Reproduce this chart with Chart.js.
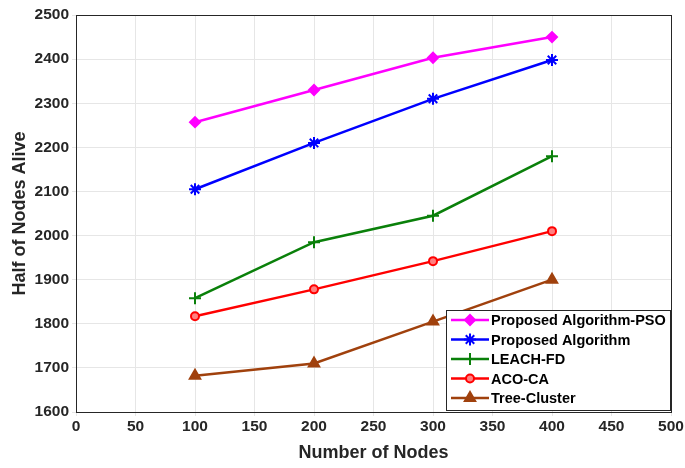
<!DOCTYPE html>
<html>
<head>
<meta charset="utf-8">
<script src="https://cdn.jsdelivr.net/npm/chart.js@4"></script>
<style>
  html, body { margin: 0; padding: 0; background: #fff; }
  #wrap { width: 685px; height: 468px; }
</style>
</head>
<body>
<div id="wrap"><canvas id="nodesChart" width="685" height="468"></canvas></div>
<script>
const nodes = [100, 200, 300, 400];
const psoAlive = [2257, 2330, 2403, 2450];
const proposedAlive = [2105, 2210, 2310, 2398];
const leachAlive = [1858, 1985, 2045, 2180];
const acoAlive = [1817, 1878, 1942, 2010];
const treeAlive = [1682, 1710, 1805, 1900];

const FONT = "'Liberation Sans', Arial, sans-serif";
const TXT = "#262626";

function pts(vals) {
  return nodes.map((n, i) => ({ x: n, y: vals[i] }));
}

function series(label, vals, color, style, fill, radius) {
  return {
    label: label,
    data: pts(vals),
    borderColor: color,
    backgroundColor: fill,
    borderWidth: 2.5,
    pointStyle: style,
    pointRadius: radius,
    pointBorderWidth: 2,
    pointBorderColor: color,
    pointBackgroundColor: fill,
    tension: 0
  };
}

// legend drawn inside the plot, bottom right (MATLAB style)
const insideLegend = {
  id: "insideLegend",
  afterDatasetsDraw(chart) {
    const c = chart.ctx;
    const x0 = 446, y0 = 310, w = 224, h = 100;
    c.save();
    c.fillStyle = "#fff";
    c.fillRect(x0, y0, w, h);
    c.strokeStyle = "#262626";
    c.lineWidth = 1;
    c.strokeRect(x0 + 0.5, y0 + 0.5, w, h);
    c.font = "bold 14.5px " + FONT;
    c.textBaseline = "middle";
    chart.data.datasets.forEach((ds, i) => {
      const y = y0 + 10 + i * 19.5;
      c.strokeStyle = ds.borderColor;
      c.lineWidth = 2.5;
      c.beginPath();
      c.moveTo(x0 + 5, y);
      c.lineTo(x0 + 43, y);
      c.stroke();
      c.fillStyle = ds.pointBackgroundColor;
      c.strokeStyle = ds.borderColor;
      c.lineWidth = 2;
      Chart.helpers.drawPoint(c, { pointStyle: ds.pointStyle, radius: ds.pointRadius, borderWidth: 2, rotation: 0 }, x0 + 24, y);
      c.fillStyle = "#000";
      c.fillText(ds.label, x0 + 45, y + 1);
    });
    c.restore();
  },
  afterDraw(chart) {
    const a = chart.chartArea;
    const c = chart.ctx;
    c.save();
    c.strokeStyle = "#262626";
    c.lineWidth = 1;
    c.strokeRect(Math.round(a.left) + 0.5, Math.round(a.top) + 0.5,
      Math.round(a.right - a.left), Math.round(a.bottom - a.top));
    c.restore();
  }
};

const ctx = document.getElementById("nodesChart").getContext("2d");
const chart = new Chart(ctx, {
  type: "line",
  data: {
    datasets: [
      series("Proposed Algorithm-PSO", psoAlive, "#ff00ff", "rectRot", "#ff00ff", 5),
      series("Proposed Algorithm", proposedAlive, "#0000ff", "star", "#0000ff", 6),
      series("LEACH-FD", leachAlive, "#0a800a", "cross", "#0a800a", 6),
      series("ACO-CA", acoAlive, "#ff0000", "circle", "#ff8080", 4),
      series("Tree-Cluster", treeAlive, "#a0410d", "triangle", "#a0410d", 6)
    ]
  },
  options: {
    responsive: false,
    animation: false,
    layout: { padding: { top: 15, right: 14, left: 0, bottom: 0 } },
    plugins: {
      legend: { display: false },
      tooltip: { enabled: false }
    },
    scales: {
      x: {
        type: "linear",
        min: 0,
        max: 500,
        ticks: {
          stepSize: 50, color: TXT, font: { family: FONT, size: 15.5, weight: "bold" },
          padding: 1, maxRotation: 0, callback: v => String(v)
        },
        grid: { color: "#e6e6e6", tickLength: 4 },
        border: { color: "#262626" },
        title: { display: true, text: "Number of Nodes", color: TXT, font: { family: FONT, size: 18, weight: "bold" }, padding: { top: 1 } },
        afterFit(s) { s.height = 56; }
      },
      y: {
        min: 1600,
        max: 2500,
        ticks: {
          stepSize: 100, color: TXT, font: { family: FONT, size: 15.5, weight: "bold" },
          padding: 3, callback: v => String(v)
        },
        grid: { color: "#e6e6e6", tickLength: 4 },
        border: { color: "#262626" },
        title: { display: true, text: "Half of Nodes Alive", color: TXT, font: { family: FONT, size: 18, weight: "bold" }, padding: { top: 9, bottom: 0 } },
        afterFit(s) { s.width = 76; }
      }
    }
  },
  plugins: [insideLegend]
});
</script>
</body>
</html>
